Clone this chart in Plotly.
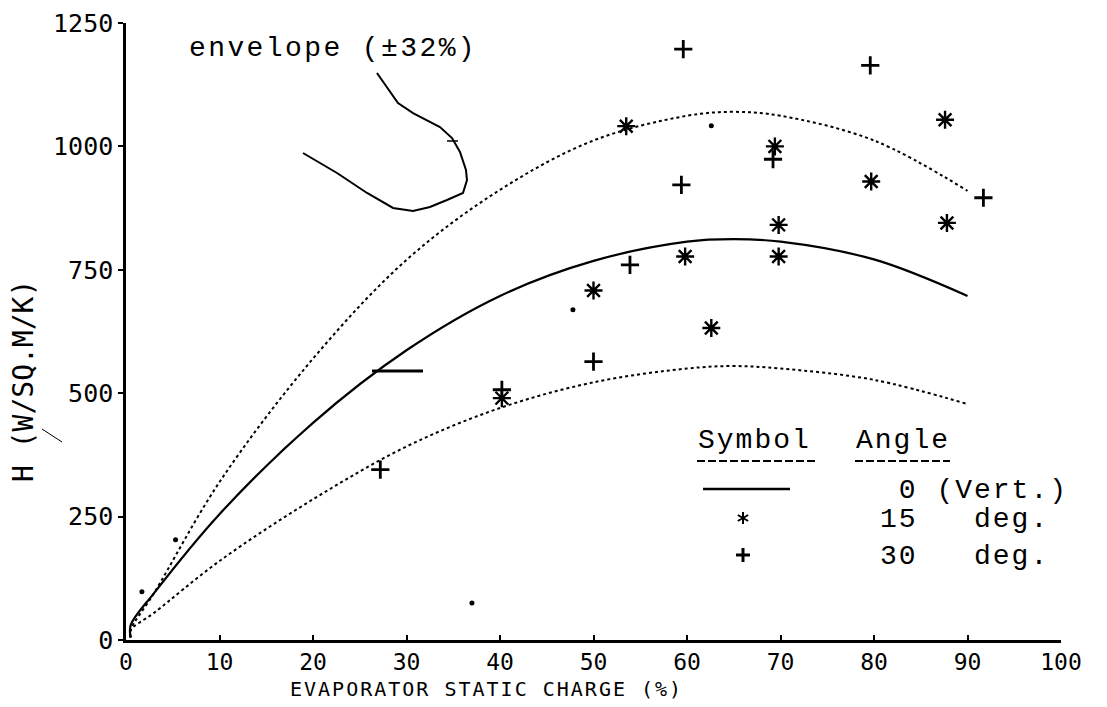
import math
import plotly.graph_objects as go

# ---------------- data ----------------
fit_x = [0.5, 0.5, 3, 10, 20, 30, 40, 50, 60, 65, 70, 80, 90]
fit_mid = [5, 30, 95, 255, 440, 587, 697, 768, 807, 812, 807, 771, 697]
fit_hi = [5, 20, 95, 320, 570, 770, 912, 1012, 1062, 1070, 1062, 1012, 910]
fit_lo = [5, 20, 55, 160, 285, 392, 470, 522, 550, 555, 550, 527, 478]

ast_x = [40.2, 50, 53.5, 59.8, 62.6, 69.4, 69.8, 69.8, 79.7, 87.6, 87.8]
ast_y = [490, 708, 1041, 777, 632, 1000, 841, 777, 929, 1054, 845]

plus_x = [27.2, 40.2, 50, 53.9, 59.4, 59.6, 69.2, 76.4, 79.6, 91.7]
plus_y = [345, 507, 564, 760, 922, 1197, 974, 1260, 1164, 896]

dot_x = [1.7, 5.3, 47.8, 62.6, 37.0]
dot_y = [98, 203, 669, 1042, 75]

x_ticks = [0, 10, 20, 30, 40, 50, 60, 70, 80, 90, 100]
y_ticks = [0, 250, 500, 750, 1000, 1250]

# --------------- helpers (pixel -> axis / paper units for decorations) ---------------
def X(px):
    return (px - 126) / 9.35


def Y(py):
    return (640 - py) / 0.4933


def PX(px):
    return (px - 126) / 935.0


def PY(py):
    return (640 - py) / 617.0


MONO = "DejaVu Sans Mono"
TYPE = "Liberation Mono, Courier New, monospace"

fig = go.Figure()

fig.add_trace(go.Scatter(x=fit_x, y=fit_hi, mode="lines", line=dict(color="black", width=2, dash="dot", shape="spline"), hoverinfo="skip"))
fig.add_trace(go.Scatter(x=fit_x, y=fit_mid, mode="lines", line=dict(color="black", width=2.2, shape="spline"), hoverinfo="skip"))
fig.add_trace(go.Scatter(x=fit_x, y=fit_lo, mode="lines", line=dict(color="black", width=2, dash="3px,3px", shape="spline"), hoverinfo="skip"))

fig.add_trace(go.Scatter(x=ast_x, y=ast_y, mode="markers", cliponaxis=False,
                         marker=dict(symbol="asterisk-open", size=15, color="black", line=dict(color="black", width=2.4))))
fig.add_trace(go.Scatter(x=plus_x, y=plus_y, mode="markers", cliponaxis=False,
                         marker=dict(symbol="cross-thin-open", size=13, color="black", line=dict(color="black", width=2.8))))
fig.add_trace(go.Scatter(x=dot_x, y=dot_y, mode="markers", cliponaxis=False,
                         marker=dict(symbol="circle", size=5, color="black")))

shapes = []


def pline(x0, y0, x1, y1, w=2, dash=None):
    ln = dict(color="black", width=w)
    if dash:
        ln["dash"] = dash
    shapes.append(dict(type="line", x0=PX(x0), y0=PY(y0), x1=PX(x1), y1=PY(y1),
                       xref="paper", yref="paper", line=ln))


# hand drawn envelope pointer
env_px = [(377, 73), (398, 103), (413, 113), (440, 127), (452, 138), (460, 152), (466, 170),
          (467, 180), (463, 193), (447, 200), (430, 207), (413, 211), (393, 208), (367, 193),
          (337, 173), (303, 153)]
path = "M " + " L ".join(f"{PX(a):.4f},{PY(b):.4f}" for a, b in env_px)
shapes.append(dict(type="path", path=path, xref="paper", yref="paper", line=dict(color="black", width=2)))
pline(447, 141, 458, 141, 1.5)
# scribble on the solid curve
pline(372, 371, 423, 371, 3)
# stray stroke near y title
pline(42, 429, 62, 442, 1)
# legend underlines and line sample
pline(697, 461, 815, 461, 2, "8px,3px")
pline(855, 461, 950, 461, 2, "8px,3px")
pline(703, 489, 790, 489, 2.5)
# legend symbols: asterisk and plus
cx, cy, r = 743, 518, 6
for ang in (90, 30, 150):
    dx, dy = r * math.cos(math.radians(ang)), r * math.sin(math.radians(ang))
    pline(cx - dx, cy - dy, cx + dx, cy + dy, 2)
pline(736, 555, 750, 555, 3)
pline(743, 548, 743, 562, 3)

ann = []


def txt(s, px, py, size, font=TYPE, anchor="left", ls=None, angle=0):
    t = s if ls is None else f'<span style="letter-spacing:{ls}px">{s}</span>'
    ann.append(dict(text=t, x=PX(px), y=PY(py), xref="paper", yref="paper", xanchor=anchor, yanchor="middle",
                    textangle=angle, showarrow=False, borderpad=0,
                    font=dict(family=font, size=size, color="black")))


txt("envelope (±32%)", 188, 48, 28, ls=2.4)
txt("Symbol", 697, 440, 28, ls=2)
txt("Angle", 855, 440, 28, ls=2)
txt("\u00a00 (Vert.)", 879, 490, 28, ls=2)
txt("15\u00a0\u00a0\u00a0deg.", 879, 519, 28, ls=2)
txt("30\u00a0\u00a0\u00a0deg.", 879, 556, 28, ls=2)
txt("EVAPORATOR STATIC CHARGE (%)", 486, 689, 20, font=MONO, anchor="center", ls=2)
txt("H (W/SQ.M/K)", 23, 381, 28, font=MONO, anchor="center", angle=-90)

ytext = ["\u00a0" * (4 - len(str(v))) + str(v) for v in y_ticks]

fig.update_layout(
    width=1107, height=707,
    margin=dict(l=126, r=46, t=23, b=67, autoexpand=False),
    paper_bgcolor="white", plot_bgcolor="white",
    showlegend=False,
    shapes=shapes, annotations=ann,
    xaxis=dict(range=[0, 100], tickvals=x_ticks, ticktext=[str(v) for v in x_ticks],
               showline=True, linecolor="black", linewidth=2.5, ticks="inside", ticklen=5, tickwidth=2,
               tickcolor="black", showgrid=False, zeroline=False,
               tickfont=dict(family=MONO, size=23, color="black")),
    yaxis=dict(range=[0, 1250], tickvals=y_ticks, ticktext=ytext,
               showline=True, linecolor="black", linewidth=2.5, ticks="outside", ticklen=5, tickwidth=2,
               tickcolor="black", showgrid=False, zeroline=False,
               tickfont=dict(family=MONO, size=25, color="black")),
)

fig.write_html("out.html")
